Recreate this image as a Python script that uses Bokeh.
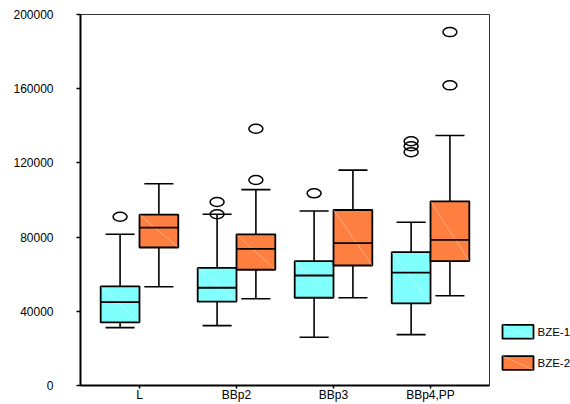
from bokeh.plotting import figure
from bokeh.layouts import row
from bokeh.models import Range1d, FixedTicker, NumeralTickFormatter, ColumnDataSource
from bokeh.core.properties import value
from bokeh.embed import file_html
from bokeh.resources import INLINE

categories = ["L", "BBp2", "BBp3", "BBp4,PP"]
series = ["BZE-1", "BZE-2"]

bze1_q1 = [34000, 45200, 47300, 44300]
bze1_med = [45000, 52700, 59300, 60800]
bze1_q3 = [53400, 63400, 67000, 71900]
bze1_lo = [31200, 32300, 26000, 27400]
bze1_hi = [81500, 92300, 94100, 88000]
bze1_out_cat = ["L", "BBp2", "BBp2", "BBp3", "BBp4,PP", "BBp4,PP", "BBp4,PP"]
bze1_out_val = [91000, 92300, 98900, 103600, 131700, 129000, 125800]

bze2_q1 = [74400, 62400, 64700, 67000]
bze2_med = [85100, 73700, 76700, 78500]
bze2_q3 = [92100, 81500, 94600, 99300]
bze2_lo = [53200, 46800, 47300, 48400]
bze2_hi = [108800, 105600, 116100, 134800]
bze2_out_cat = ["BBp2", "BBp2", "BBp4,PP", "BBp4,PP"]
bze2_out_val = [110800, 138400, 161800, 190500]

y_ticks = [0, 40000, 80000, 120000, 160000, 200000]

colors = ["#80FFFF", "#FF7F40"]
offsets = [-0.2, 0.2]
half_box = 0.2
half_cap = 0.15
font = "Liberation Sans"

p = figure(width=490, height=404, output_backend="svg", toolbar_location=None,
           x_range=Range1d(-0.608, 3.608), y_range=Range1d(0, 200000),
           min_border_left=80, min_border_right=1, min_border_top=14, min_border_bottom=18)
p.xgrid.visible = False
p.ygrid.visible = False
p.outline_line_color = "#333333"
p.outline_line_width = 1
p.background_fill_color = "white"
p.border_fill_color = "white"

p.yaxis.ticker = FixedTicker(ticks=y_ticks)
p.yaxis.formatter = NumeralTickFormatter(format="0")
p.yaxis.major_label_text_font = font
p.yaxis.major_label_text_font_size = "12px"
p.yaxis.major_label_text_color = "black"
p.yaxis.major_tick_out = 4
p.yaxis.major_tick_in = 0
p.yaxis.minor_tick_out = 0
p.yaxis.minor_tick_in = 0
p.yaxis.major_label_standoff = 23
p.yaxis.axis_line_width = 2
p.yaxis.axis_line_color = "black"
p.yaxis.major_tick_line_color = "black"
p.yaxis.major_tick_line_width = 1.5

p.xaxis.ticker = FixedTicker(ticks=list(range(len(categories))))
p.xaxis.major_label_overrides = {i: c for i, c in enumerate(categories)}
p.xaxis.major_label_text_font = font
p.xaxis.major_label_text_font_size = "12px"
p.xaxis.major_label_text_color = "black"
p.xaxis.major_tick_out = 3
p.xaxis.major_tick_in = 0
p.xaxis.minor_tick_out = 0
p.xaxis.minor_tick_in = 0
p.xaxis.major_label_standoff = -1
p.xaxis.axis_line_width = 2
p.xaxis.axis_line_color = "black"
p.xaxis.major_tick_line_color = "black"
p.xaxis.major_tick_line_width = 1.5

cat_idx = {c: i for i, c in enumerate(categories)}
all_stats = [
    (bze1_q1, bze1_med, bze1_q3, bze1_lo, bze1_hi, bze1_out_cat, bze1_out_val),
    (bze2_q1, bze2_med, bze2_q3, bze2_lo, bze2_hi, bze2_out_cat, bze2_out_val),
]

for s, (q1, med, q3, lo, hi, oc, ov) in enumerate(all_stats):
    xs = [i + offsets[s] for i in range(len(categories))]
    src = ColumnDataSource(dict(
        x=xs, left=[x - half_box for x in xs], right=[x + half_box for x in xs],
        cl=[x - half_cap for x in xs], cr=[x + half_cap for x in xs],
        q1=q1, med=med, q3=q3, lo=lo, hi=hi))
    p.segment(x0="x", y0="q3", x1="x", y1="hi", source=src, line_color="black", line_width=1.6)
    p.segment(x0="x", y0="q1", x1="x", y1="lo", source=src, line_color="black", line_width=1.6)
    p.segment(x0="cl", y0="hi", x1="cr", y1="hi", source=src, line_color="black", line_width=1.6)
    p.segment(x0="cl", y0="lo", x1="cr", y1="lo", source=src, line_color="black", line_width=1.6)
    p.quad(left="left", right="right", bottom="q1", top="q3", source=src,
           fill_color=colors[s], line_color="black", line_width=1.8)
    p.segment(x0="left", y0="q3", x1="right", y1="q1", source=src,
              line_color="white", line_alpha=0.35, line_width=1)
    p.segment(x0="left", y0="med", x1="right", y1="med", source=src,
              line_color="black", line_width=1.8)
    osrc = ColumnDataSource(dict(x=[cat_idx[c] + offsets[s] for c in oc], y=ov))
    p.ellipse(x="x", y="y", width=14, height=9, width_units="screen", height_units="screen",
              source=osrc, fill_color=None, line_color="black", line_width=1.5)

# legend panel (pixel coordinates, y downward)
lg = figure(width=80, height=404, output_backend="svg", toolbar_location=None,
            x_range=Range1d(0, 80), y_range=Range1d(404, 0),
            x_axis_type=None, y_axis_type=None, min_border=0)
lg.xgrid.visible = False
lg.ygrid.visible = False
lg.outline_line_color = None
lg.border_fill_color = "white"
lg.background_fill_color = "white"

sw_top = [338 + 34 * i for i in range(len(series))]
sw_bot = [t + 15 for t in sw_top]
lsrc = ColumnDataSource(dict(left=[12] * 2, right=[43] * 2, top=sw_top, bottom=sw_bot,
                             mid=[(a + b) / 2 for a, b in zip(sw_top, sw_bot)],
                             tx=[47] * 2, label=series, color=colors))
lg.quad(left="left", right="right", top="top", bottom="bottom", source=lsrc,
        fill_color="color", line_color="black", line_width=1.8)
lg.segment(x0="left", y0="top", x1="right", y1="bottom", source=lsrc,
           line_color="white", line_alpha=0.35, line_width=1)
lg.text(x="tx", y="mid", text="label", source=lsrc, text_baseline="middle",
        text_font=value(font), text_font_size="11.5px", text_color="black")

layout = row(p, lg, spacing=0)
open("out.html", "w").write(file_html(layout, INLINE))
